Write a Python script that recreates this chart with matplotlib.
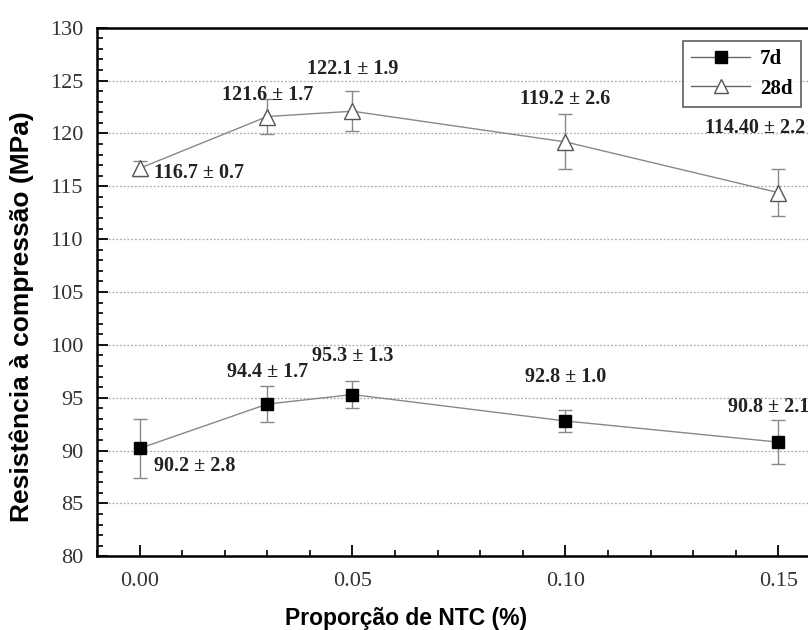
import matplotlib
matplotlib.use("Agg")
import matplotlib.pyplot as plt
from matplotlib.lines import Line2D
from matplotlib.ticker import MultipleLocator

# dados
ntc = [0.00, 0.03, 0.05, 0.10, 0.15]
r7 = [90.2, 94.4, 95.3, 92.8, 90.8]
e7 = [2.8, 1.7, 1.3, 1.0, 2.1]
r28 = [116.7, 121.6, 122.1, 119.2, 114.4]
e28 = [0.7, 1.7, 1.9, 2.6, 2.2]
lab7 = ["90.2 ± 2.8", "94.4 ± 1.7", "95.3 ± 1.3", "92.8 ± 1.0", "90.8 ± 2.1"]
lab28 = ["116.7 ± 0.7", "121.6 ± 1.7", "122.1 ± 1.9", "119.2 ± 2.6", "114.40 ± 2.2"]

serif = "Liberation Serif"
sans = "Liberation Sans"

fig = plt.figure(figsize=(8.08, 6.3), dpi=100)
ax = fig.add_axes([0.12, 0.117, 0.896, 0.839])

ax.errorbar(ntc, r7, yerr=e7, color="#888888", lw=1, capsize=5, elinewidth=1,
            marker="s", ms=9, mfc="black", mec="black", zorder=3)
ax.errorbar(ntc, r28, yerr=e28, color="#888888", lw=1, capsize=5, elinewidth=1,
            marker="^", ms=11, mfc="white", mec="#555555", zorder=3)

# rótulos dos valores (deslocamentos em unidades de dados)
off7 = [(0.0035, -1.7, "left"), (0.0, 3.0, "center"), (0.0, 3.6, "center"),
        (0.0, 4.2, "center"), (-0.0118, 3.3, "left")]
off28 = [(0.0035, -0.4, "left"), (0.0, 2.0, "center"), (0.0, 4.0, "center"),
         (0.0, 4.1, "center"), (-0.0172, 6.1, "left")]
for x, y, t, (dx, dy, ha) in zip(ntc, r7, lab7, off7):
    ax.text(x + dx, y + dy, t, ha=ha, va="center", family=serif,
            fontweight="bold", fontsize=14.5, color="#222222")
for x, y, t, (dx, dy, ha) in zip(ntc, r28, lab28, off28):
    ax.text(x + dx, y + dy, t, ha=ha, va="center", family=serif,
            fontweight="bold", fontsize=14.5, color="#222222")

ax.set_xlim(-0.01, 0.16)
ax.set_ylim(80, 130)
ax.xaxis.set_major_locator(MultipleLocator(0.05))
ax.xaxis.set_minor_locator(MultipleLocator(0.01))
ax.yaxis.set_major_locator(MultipleLocator(5))
ax.yaxis.set_minor_locator(MultipleLocator(1))
ax.xaxis.set_major_formatter(plt.FuncFormatter(lambda v, p: f"{v:.2f}"))
ax.tick_params(which="major", direction="in", length=8, width=1.3,
               labelsize=16, labelcolor="#333333")
ax.tick_params(which="minor", direction="in", length=4, width=1.2)
for lbl in ax.get_xticklabels() + ax.get_yticklabels():
    lbl.set_family(serif)
ax.tick_params(axis="x", pad=11)
ax.tick_params(axis="y", pad=10)

for s in ax.spines.values():
    s.set_linewidth(1.8)

ax.grid(axis="y", which="major", ls=(0, (1.5, 1.5)), color="#aaaaaa", lw=0.9)

handles = [
    Line2D([], [], color="#666666", lw=1, marker="s", ms=8, mfc="black", mec="black"),
    Line2D([], [], color="#666666", lw=1, marker="^", ms=10, mfc="white", mec="#555555"),
]
leg = ax.legend(handles, ["7d", "28d"], loc="upper right",
                bbox_to_anchor=(801 / 808, 1 - 41 / 630),
                bbox_transform=fig.transFigure, frameon=True, fancybox=False,
                edgecolor="#333333", handlelength=2.8, borderpad=0.4,
                borderaxespad=0, labelspacing=0.45, handletextpad=0.5,
                prop={"family": serif, "weight": "bold", "size": 15})
leg.get_frame().set_linewidth(1.2)

fig.text(406 / 808, 1 - 618 / 630, "Proporção de NTC (%)", ha="center", va="center",
         family=sans, fontweight="bold", fontsize=16.5)
fig.text(22 / 808, 1 - 317 / 630, "Resistência à compressão (MPa)", ha="center",
         va="center", rotation=90, family=sans, fontweight="bold", fontsize=19)

fig.savefig("out.png", dpi=100)
